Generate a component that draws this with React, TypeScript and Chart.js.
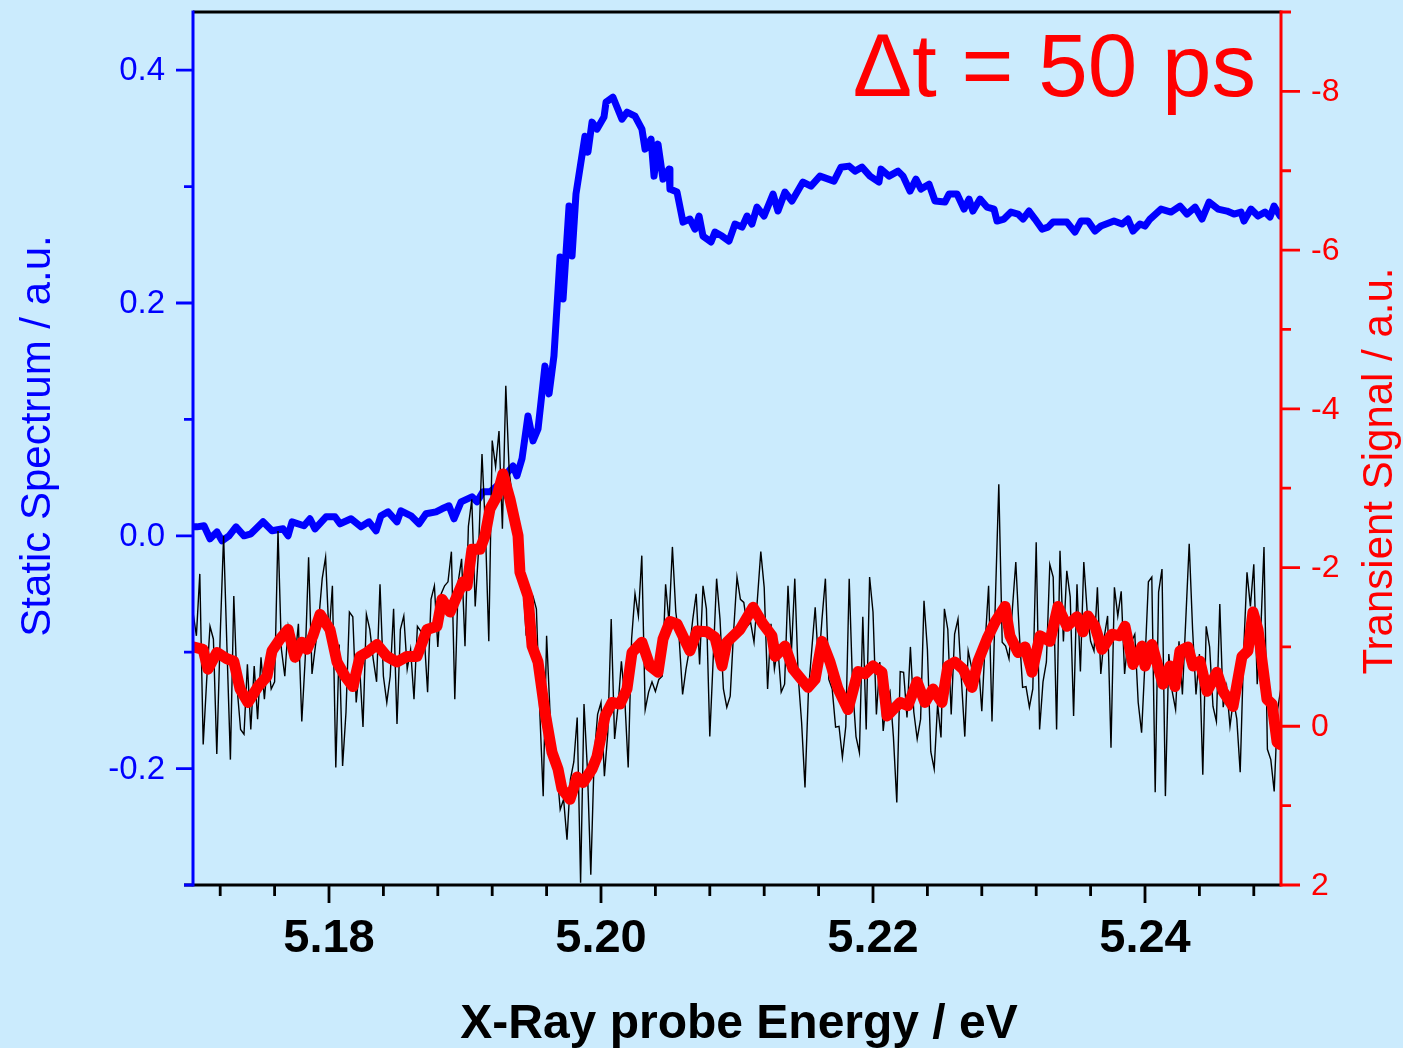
import React, { useEffect, useRef } from "react";
import { Chart, registerables } from "chart.js";

Chart.register(...registerables);

// ---------- DATA ----------
// Raw transient signal (black), sampled on a uniform energy grid
const ENERGY_START = 5.17;
const ENERGY_STEP = 0.00025;
const transientRaw = [
  -1.44, -1.14, -1.92, 0.23, -0.56, -1.26, -1.10, 0.35, -1.14, -2.40,
  -0.97, 0.42, -1.64, -0.47, 0.04, 0.10, -0.78, 0.04, -0.76, -0.09,
  -0.87, -0.34, -0.85, -0.47, -0.56, -2.46, -0.97, -0.63, -1.26, -1.06,
  -0.85, -1.29, -0.06, -0.85, -2.13, -0.66, -1.01, -1.35, -1.86, -2.13,
  -1.14, -1.77, 0.52, -1.03, 0.50, -0.18, -1.44, -1.38, -0.30, -0.76,
  0.01, -1.41, -1.22, -0.85, -0.56, -1.79, -0.63, -0.30, -0.63, -1.48,
  -0.03, -1.22, -1.39, -0.72, -0.97, -0.34, -1.26, -1.20, -1.14, -0.43,
  -1.60, -1.77, -1.00, -1.67, -1.77, -1.82, -2.20, -0.34, -1.82, -2.11,
  -1.01, -2.52,
  -2.86, -1.51, -2.23, -3.43, -2.49, -1.07, -3.60, -3.27, -3.72, -2.49,
  -4.29, -3.21, -2.86, -2.36, -2.02, -1.86, -1.14, -1.64, -1.64, -1.48,
  -0.18, 0.88, -1.14, -0.18, 0.45, 0.54, 1.05, 0.92, 1.43, 0.67,
  0.45, -0.11, 1.97, -0.28, 0.54, 1.87, 0.38, -0.15, -0.30, 0.63,
  0.08, -1.35, 0.16, -0.25, -0.82, -0.34, 0.52, -1.10, -1.67, -1.39,
  -2.15, -0.21, -0.43, -0.56, -0.44, -0.59, -0.63, -1.79, -1.31, -2.26,
  -1.44, -1.10, -0.40, -0.72, -0.97, -1.35, -1.67, -0.78, -1.77, -1.48,
  0.13, -0.85, -1.86, -1.35, -0.47, -0.24, -0.38, -1.19, -1.88, -1.60,
  -1.56, -1.26, -1.31, -1.06, -1.60, -2.20, -1.75, -0.47, -1.29, -0.72,
  -1.00, -0.43, -0.53, -1.77, -0.93, -1.86, -0.63, -0.05, 0.77, -0.43,
  -0.97, -1.50, -0.76, -1.35, -1.86, -0.59, -0.47, 0.01, 0.00, 0.39,
  0.00, -1.86, -0.50, 0.13, 0.33, -1.38, 0.04, -1.88, -1.44, -0.15,
  -0.81, 0.06, -0.34, -0.44, 0.13, 0.96, -0.69, -0.68, -0.11, -1.00,
  -0.18, 0.16, -0.09, -1.58, -0.97, 0.32, 0.54, -0.28, 0.14, -1.48,
  -1.22, -0.15, -1.16, -1.35, -0.59, 0.13, -0.95, -0.74, -0.59, -0.81,
  -0.19, -1.06, -1.77, -0.06, -1.60, -3.05, -1.06, -1.01, -0.85,
  -1.48, -2.07, -1.19, -0.49, -0.50, -0.24, -0.47, -2.32, 0.04, -0.56,
  -0.81, -2.04, -1.88, 0.04, -2.21, -1.07, -1.96, -1.63, -0.13, -1.79,
  -0.69, -2.07, -1.44, -1.07, -0.95, -1.75, -0.66, -1.12, -1.39, 0.27,
  -1.75, -1.39, -1.70, -0.66, -1.10, -1.06, -1.16, -0.30, 0.08, -0.82,
  -1.82, -1.88, 0.83, -1.69, -1.98, 0.88, -0.91, -0.44, -0.21, -1.07,
  -0.40, -1.35, -2.30, -1.22, -0.40, -0.91, 0.61, -1.26, -1.00, -0.25,
  -0.06, -1.54, -0.24, -0.50, 0.00, -0.34, -0.09, 0.58, -0.93, -1.94,
  -1.51, -2.04, -0.53, -1.14, -2.26, 0.29, 0.42, 0.82, -0.21, -0.49,
];

// Smoothed transient signal (red)
const smoothEnergy = [
  5.17, 5.17074, 5.1711, 5.17176, 5.1725, 5.173, 5.17346, 5.17404, 5.17478, 5.17544,
  5.17581, 5.1764, 5.17699, 5.1775, 5.17801, 5.17838, 5.17882, 5.17934, 5.18007, 5.18059,
  5.18118, 5.18176, 5.18228, 5.18279, 5.18353, 5.18426, 5.185, 5.18574, 5.18647, 5.18721,
  5.18794, 5.18831, 5.1889, 5.18941, 5.18985, 5.19015, 5.19051, 5.1911, 5.19147, 5.19184,
  5.19235, 5.19279, 5.19331, 5.1939, 5.19404, 5.19463, 5.19493, 5.19537, 5.19588, 5.1964,
  5.19684, 5.19713, 5.19772, 5.19824, 5.19868, 5.19934, 5.19971, 5.2003, 5.20081, 5.2014,
  5.20191, 5.20228, 5.20301, 5.2036, 5.20419, 5.20456, 5.20507, 5.20559, 5.20654, 5.20706,
  5.20779, 5.20838, 5.2089, 5.20926, 5.21022, 5.21118, 5.21191, 5.21257, 5.2128, 5.21353,
  5.21412, 5.21522, 5.21574, 5.21625, 5.21684, 5.21743, 5.21816, 5.2189, 5.21941, 5.22,
  5.22066, 5.22103, 5.22199, 5.22257, 5.22324, 5.22382, 5.22441, 5.22507, 5.22551, 5.22603,
  5.22662, 5.22728, 5.22772, 5.22838, 5.22897, 5.22971, 5.23007, 5.23066, 5.23118, 5.23169,
  5.23228, 5.23301, 5.2336, 5.23426, 5.235, 5.23544, 5.23581, 5.23632, 5.23684, 5.23757,
  5.23816, 5.23853, 5.23912, 5.23978, 5.24, 5.24051, 5.24132, 5.24184, 5.2422, 5.24257,
  5.24316, 5.24353, 5.24404, 5.24456, 5.24529, 5.24574, 5.24647, 5.24713, 5.24757, 5.24794,
  5.24831, 5.24897, 5.24934, 5.24971, 5.24993,
];
const smoothSignal = [
  -1.0, -0.97, -0.72, -0.93, -0.85, -0.82, -0.47, -0.3, -0.5, -0.63,
  -0.95, -1.1, -1.22, -0.87, -1.06, -0.97, -1.14, -1.41, -1.22, -0.81,
  -0.63, -0.5, -0.88, -0.93, -1.03, -0.88, -0.81, -0.88, -0.88, -1.22,
  -1.26, -1.6, -1.44, -1.64, -1.82, -1.77, -2.23, -2.23, -2.4, -2.74,
  -2.9, -3.18, -2.86, -2.4, -1.94, -1.64, -1.01, -0.81, -0.18, 0.33,
  0.54, 0.79, 0.92, 0.64, 0.71, 0.54, 0.38, -0.13, -0.3, -0.28,
  -0.47, -0.93, -1.06, -0.76, -0.68, -1.1, -1.32, -1.29, -0.95, -1.2,
  -1.19, -1.12, -0.76, -1.06, -1.22, -1.5, -1.29, -1.14, -0.88, -1.01,
  -0.72, -0.49, -0.59, -1.07, -0.81, -0.47, -0.21, -0.69, -0.66, -0.76,
  -0.68, -0.13, -0.3, -0.26, -0.56, -0.3, -0.47, -0.3, -0.76, -0.81,
  -0.72, -0.49, -0.82, -1.1, -1.31, -1.51, -1.14, -0.93, -1.0, -0.68,
  -1.14, -1.07, -1.51, -1.26, -1.38, -1.19, -1.39, -1.26, -0.97, -1.16,
  -1.14, -1.26, -0.78, -1.01, -0.76, -1.03, -0.53, -0.76, -0.5, -0.95,
  -1.0, -0.76, -0.82, -0.44, -0.68, -0.44, -0.25, -0.88, -0.95, -1.44,
  -1.22, -0.34, -0.28, 0.2, 0.23,
];

// Static spectrum (blue)
const staticEnergy = [
  5.17, 5.17029, 5.17081, 5.17125, 5.17176, 5.17213, 5.17265, 5.17316, 5.17375, 5.17426,
  5.17515, 5.17581, 5.17662, 5.17699, 5.17728, 5.17816, 5.1786, 5.17897, 5.17978, 5.18044,
  5.18081, 5.18162, 5.18235, 5.18294, 5.18346, 5.18382, 5.18434, 5.185, 5.18529, 5.18603,
  5.18662, 5.18713, 5.18787, 5.18831, 5.18882, 5.18919, 5.18971, 5.19051, 5.19088, 5.19132,
  5.19184, 5.19235, 5.19287, 5.19353, 5.19382, 5.19419, 5.19463, 5.195, 5.19537, 5.19588,
  5.19618, 5.19654, 5.19699, 5.19721, 5.19765, 5.19787, 5.19816, 5.19882, 5.19904, 5.19934,
  5.19971, 5.20022, 5.20037, 5.20088, 5.20118, 5.20154, 5.20191, 5.2025, 5.20301, 5.20324,
  5.20368, 5.2039, 5.20419, 5.20456, 5.205, 5.20507, 5.20559, 5.20603, 5.20654, 5.20691,
  5.20721, 5.2075, 5.20809, 5.20838, 5.2089, 5.20941, 5.20985, 5.21037, 5.21074, 5.2111,
  5.21147, 5.21199, 5.21265, 5.21301, 5.21353, 5.21404, 5.21485, 5.21544, 5.2161, 5.21713,
  5.21765, 5.21824, 5.21868, 5.21919, 5.21978, 5.22044, 5.22059, 5.22118, 5.22184, 5.22221,
  5.22272, 5.22316, 5.22353, 5.22412, 5.22456, 5.22529, 5.22559, 5.22618, 5.22669, 5.22706,
  5.22735, 5.22787, 5.22838, 5.2289, 5.22912, 5.22963, 5.23015, 5.23066, 5.23103, 5.23147,
  5.23191, 5.23243, 5.23287, 5.23324, 5.23375, 5.23426, 5.23485, 5.23529, 5.23581, 5.23632,
  5.23676, 5.23772, 5.23831, 5.23875, 5.23912, 5.23963, 5.24, 5.24037, 5.24118, 5.24191,
  5.24257, 5.24309, 5.24368, 5.24419, 5.24471, 5.24537, 5.24603, 5.24654, 5.24706, 5.24728,
  5.24779, 5.24831, 5.24882, 5.24919, 5.24949, 5.24993,
];
const staticSpectrum = [
  0.0077, 0.0077, 0.0086, -0.0026, 0.0034, -0.0043, 0.0, 0.0077, 0.0, 0.0017,
  0.012, 0.0043, 0.006, 0.0, 0.012, 0.0086, 0.0146, 0.006, 0.0163, 0.0163,
  0.0103, 0.0146, 0.0077, 0.012, 0.0043, 0.0172, 0.0206, 0.012, 0.0215, 0.0172,
  0.0103, 0.0189, 0.0206, 0.0232, 0.0258, 0.0146, 0.0292, 0.0335, 0.0292, 0.0378,
  0.0378, 0.0429, 0.0506, 0.0601, 0.0515, 0.0661, 0.103, 0.0815, 0.0918, 0.1459,
  0.1219, 0.1545, 0.2395, 0.2034, 0.2833, 0.2403, 0.2936, 0.3433, 0.3296, 0.3554,
  0.3494, 0.3597, 0.3725, 0.3768, 0.3682, 0.3579, 0.3639, 0.3605, 0.3494, 0.3322,
  0.3408, 0.309, 0.3365, 0.3064, 0.315, 0.2979, 0.2953, 0.2695, 0.2721, 0.2635,
  0.2747, 0.2575, 0.2524, 0.2609, 0.2575, 0.2532, 0.2678, 0.2652, 0.2747, 0.2678,
  0.2824, 0.2747, 0.2936, 0.279, 0.2953, 0.2876, 0.3039, 0.3004, 0.309, 0.3047,
  0.3167, 0.3176, 0.3133, 0.3167, 0.309, 0.3039, 0.315, 0.309, 0.3133, 0.309,
  0.2961, 0.3064, 0.2979, 0.3021, 0.2876, 0.2867, 0.2936, 0.2936, 0.2807, 0.2893,
  0.279, 0.2893, 0.2824, 0.2807, 0.2704, 0.2721, 0.2781, 0.2764, 0.2721, 0.279,
  0.2721, 0.2635, 0.2652, 0.2695, 0.2695, 0.2695, 0.2609, 0.2704, 0.2704, 0.2618,
  0.2661, 0.2704, 0.2678, 0.2721, 0.2618, 0.2678, 0.2661, 0.2721, 0.2807, 0.2781,
  0.2833, 0.2764, 0.2824, 0.2721, 0.2867, 0.2807, 0.279, 0.2764, 0.2781, 0.2704,
  0.2807, 0.2747, 0.2781, 0.2738, 0.2833, 0.2747,
];

// Axis ticks / labels
const xMajorTicks = [5.18, 5.2, 5.22, 5.24];
const xTickLabels = ["5.18", "5.20", "5.22", "5.24"];
const xMinorStep = 0.004;
const leftMajorTicks = [-0.2, 0.0, 0.2, 0.4];
const leftTickLabels = ["-0.2", "0.0", "0.2", "0.4"];
const leftMinorTicks = [-0.3, -0.1, 0.1, 0.3];
const rightMajorTicks = [-8, -6, -4, -2, 0, 2];
const rightTickLabels = ["-8", "-6", "-4", "-2", "0", "2"];
const rightMinorTicks = [-9, -7, -5, -3, -1, 1];

const xTitle = "X-Ray probe Energy / eV";
const leftTitle = "Static Spectrum / a.u.";
const rightTitle = "Transient Signal / a.u.";
const annotation = "\u0394t = 50 ps";

const FONT = '"Liberation Sans", Arial, Helvetica, sans-serif';
const BLUE = "#0000ff";
const RED = "#ff0000";
const BG = "#cbebfd";

const axesPlugin = {
  id: "customAxes",
  afterDraw(chart: any) {
    const ctx = chart.ctx;
    const { left, right, top, bottom } = chart.chartArea;
    const x = chart.scales.x;
    const y = chart.scales.y;
    const y2 = chart.scales.y2;
    ctx.save();
    ctx.lineCap = "butt";

    // top & bottom frame (black)
    ctx.strokeStyle = "#000";
    ctx.lineWidth = 3;
    ctx.beginPath();
    ctx.moveTo(left, top);
    ctx.lineTo(right, top);
    ctx.moveTo(left - 9, bottom);
    ctx.lineTo(right, bottom);
    ctx.stroke();

    // bottom ticks
    ctx.lineWidth = 2.8;
    ctx.beginPath();
    const nStart = Math.ceil((x.min + 1e-9) / xMinorStep);
    const nEnd = Math.floor((x.max - 1e-9) / xMinorStep);
    for (let n = nStart; n <= nEnd; n++) {
      const v = n * xMinorStep;
      const isMajor = xMajorTicks.some((m) => Math.abs(m - v) < 1e-6);
      const px = x.getPixelForValue(v);
      ctx.moveTo(px, bottom);
      ctx.lineTo(px, bottom + (isMajor ? 18 : 11));
    }
    ctx.stroke();

    // bottom labels
    ctx.fillStyle = "#000";
    ctx.font = `bold 47px ${FONT}`;
    ctx.textAlign = "center";
    ctx.textBaseline = "alphabetic";
    xMajorTicks.forEach((v, i) => {
      ctx.fillText(xTickLabels[i], x.getPixelForValue(v), 952);
    });

    // left axis (blue)
    ctx.strokeStyle = BLUE;
    ctx.lineWidth = 3;
    ctx.beginPath();
    ctx.moveTo(left, top - 1.5);
    ctx.lineTo(left, bottom + 1.5);
    ctx.stroke();
    ctx.lineWidth = 2.8;
    ctx.beginPath();
    leftMajorTicks.forEach((v) => {
      const py = y.getPixelForValue(v);
      ctx.moveTo(left - 17, py);
      ctx.lineTo(left, py);
    });
    leftMinorTicks.forEach((v) => {
      const py = y.getPixelForValue(v);
      ctx.moveTo(left - 9, py);
      ctx.lineTo(left, py);
    });
    ctx.stroke();
    ctx.fillStyle = BLUE;
    ctx.font = `33px ${FONT}`;
    ctx.textAlign = "right";
    ctx.textBaseline = "middle";
    leftMajorTicks.forEach((v, i) => {
      ctx.fillText(leftTickLabels[i], 165, y.getPixelForValue(v) + 1);
    });

    // right axis (red)
    ctx.strokeStyle = RED;
    ctx.lineWidth = 3;
    ctx.beginPath();
    ctx.moveTo(right, top - 1.5);
    ctx.lineTo(right, bottom + 1.5);
    ctx.stroke();
    ctx.lineWidth = 2.8;
    ctx.beginPath();
    rightMajorTicks.forEach((v) => {
      const py = y2.getPixelForValue(v);
      ctx.moveTo(right, py);
      ctx.lineTo(right + 19, py);
    });
    rightMinorTicks.forEach((v) => {
      const py = y2.getPixelForValue(v);
      ctx.moveTo(right, py);
      ctx.lineTo(right + 10, py);
    });
    ctx.stroke();
    ctx.fillStyle = RED;
    ctx.font = `32px ${FONT}`;
    ctx.textAlign = "left";
    ctx.textBaseline = "middle";
    rightMajorTicks.forEach((v, i) => {
      ctx.fillText(rightTickLabels[i], right + 30, y2.getPixelForValue(v) + 1);
    });

    // titles
    ctx.textBaseline = "alphabetic";
    ctx.textAlign = "center";
    ctx.fillStyle = "#000";
    ctx.font = `bold 48px ${FONT}`;
    ctx.fillText(xTitle, (left + right) / 2 + 2, 1038);

    ctx.save();
    ctx.translate(50, 436);
    ctx.rotate(-Math.PI / 2);
    ctx.fillStyle = BLUE;
    ctx.font = `42px ${FONT}`;
    ctx.fillText(leftTitle, 0, 0);
    ctx.restore();

    ctx.save();
    ctx.translate(1392, 471);
    ctx.rotate(-Math.PI / 2);
    ctx.fillStyle = RED;
    ctx.font = `42px ${FONT}`;
    ctx.fillText(rightTitle, 0, 0);
    ctx.restore();

    // annotation
    ctx.fillStyle = RED;
    ctx.font = `89px ${FONT}`;
    ctx.textAlign = "right";
    ctx.fillText(annotation, 1256, 96);

    ctx.restore();
  },
};

export default function App() {
  const canvasRef = useRef<HTMLCanvasElement | null>(null);

  useEffect(() => {
    document.body.style.margin = "0";
    const canvas = canvasRef.current;
    if (!canvas) return;

    const rawData = transientRaw.map((v, i) => ({
      x: ENERGY_START + i * ENERGY_STEP,
      y: v,
    }));
    const smoothData = smoothEnergy.map((e, i) => ({ x: e, y: smoothSignal[i] }));
    const staticData = staticEnergy.map((e, i) => ({ x: e, y: staticSpectrum[i] }));

    const hidden = {
      ticks: { display: false },
      grid: { display: false, drawTicks: false },
      border: { display: false },
    };

    const chart = new Chart(canvas, {
      type: "line",
      data: {
        datasets: [
          {
            label: "Smoothed transient",
            data: smoothData,
            yAxisID: "y2",
            borderColor: RED,
            borderWidth: 11,
            pointRadius: 0,
            borderJoinStyle: "round",
            borderCapStyle: "round",
            tension: 0,
            order: 0,
          },
          {
            label: "Raw transient",
            data: rawData,
            yAxisID: "y2",
            borderColor: "#000000",
            borderWidth: 1.4,
            pointRadius: 0,
            tension: 0,
            order: 1,
          },
          {
            label: "Static spectrum",
            data: staticData,
            yAxisID: "y",
            borderColor: BLUE,
            borderWidth: 7,
            pointRadius: 0,
            borderJoinStyle: "round",
            borderCapStyle: "round",
            tension: 0,
            order: 2,
          },
        ],
      },
      options: {
        animation: false,
        responsive: false,
        maintainAspectRatio: false,
        events: [],
        layout: { padding: { top: 12, left: 0, right: 0, bottom: 0 } },
        plugins: { legend: { display: false }, tooltip: { enabled: false } },
        scales: {
          x: {
            type: "linear",
            position: "bottom",
            min: 5.17,
            max: 5.25,
            ...hidden,
            afterFit: (s: any) => {
              s.height = 163;
            },
          },
          y: {
            type: "linear",
            position: "left",
            min: -0.3,
            max: 0.45,
            ...hidden,
            afterFit: (s: any) => {
              s.width = 193;
            },
          },
          y2: {
            type: "linear",
            position: "right",
            min: -9,
            max: 2,
            reverse: true,
            ...hidden,
            afterFit: (s: any) => {
              s.width = 122;
            },
          },
        },
      } as any,
      plugins: [axesPlugin],
    });

    return () => chart.destroy();
  }, []);

  return (
    <div style={{ width: 1403, height: 1048, background: BG, overflow: "hidden" }}>
      <canvas ref={canvasRef} width={1403} height={1048} style={{ display: "block" }} />
    </div>
  );
}
